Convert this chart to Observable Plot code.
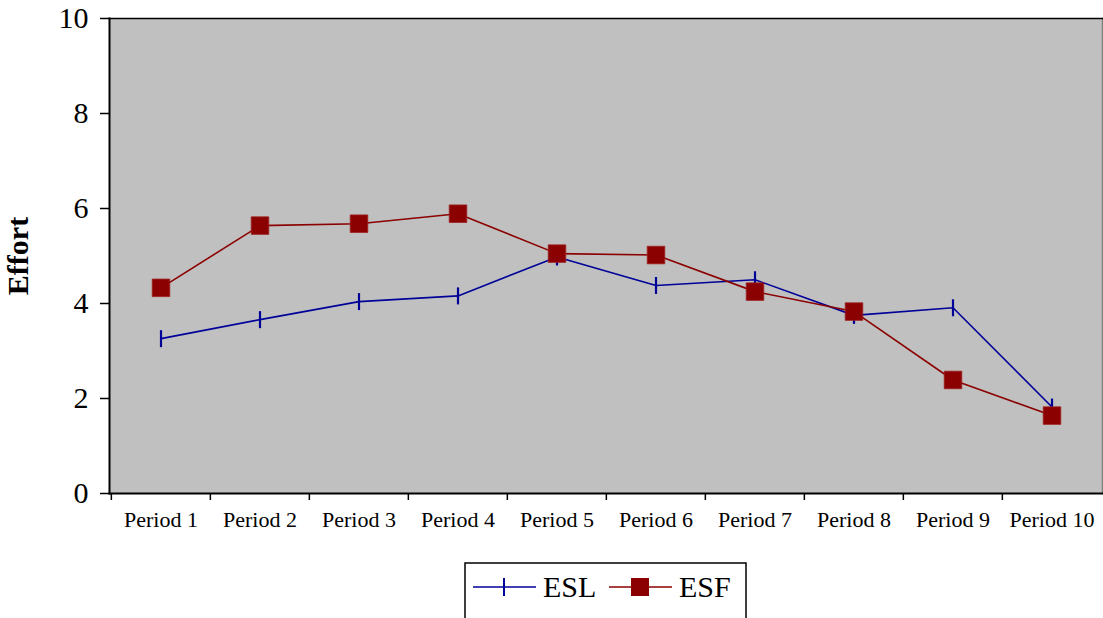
<!DOCTYPE html>
<html>
<head>
<meta charset="utf-8">
<script src="https://cdn.jsdelivr.net/npm/d3@7"></script>
<script src="https://cdn.jsdelivr.net/npm/@observablehq/plot@0.6"></script>
<style>
  html, body { margin: 0; padding: 0; background: #fff; }
  #chart { position: relative; width: 1103px; height: 618px; overflow: hidden; font-family: "Liberation Serif", "Times New Roman", serif; }
  #legend { position: absolute; left: 464px; top: 562px; }
</style>
</head>
<body>
<div id="chart"></div>
<script>
// Effort per period for the two groups
const periods = ["Period 1", "Period 2", "Period 3", "Period 4", "Period 5",
                 "Period 6", "Period 7", "Period 8", "Period 9", "Period 10"];
const eslValues = [3.26, 3.66, 4.04, 4.16, 4.98, 4.38, 4.50, 3.75, 3.91, 1.82];
const esfValues = [4.33, 5.64, 5.68, 5.89, 5.05, 5.02, 4.25, 3.83, 2.39, 1.64];
const yTicks = [0, 2, 4, 6, 8, 10];
const seriesNames = ["ESL", "ESF"];
const seriesColors = {ESL: "#000099", ESF: "#8b0000"};

const rows = [
  ...periods.map((p, i) => ({period: p, series: "ESL", effort: eslValues[i]})),
  ...periods.map((p, i) => ({period: p, series: "ESF", effort: esfValues[i]}))
];
const esl = rows.filter(d => d.series === "ESL");
const esf = rows.filter(d => d.series === "ESF");

// vertical dash marker
const dash = {
  draw(context, size) {
    const r = Math.sqrt(size / Math.PI);
    context.moveTo(0, -r);
    context.lineTo(0, r);
  }
};

const W = 1103, H = 545;
const mL = 109, mR = 1, mT = 18, mB = 52;
const halfBand = (W - mL - mR) / periods.length / 2;

const chart = Plot.plot({
  width: W,
  height: H,
  marginLeft: mL,
  marginRight: mR,
  marginTop: mT,
  marginBottom: mB,
  style: {fontFamily: "'Liberation Serif', 'Times New Roman', serif", color: "#000", background: "#fff"},
  x: {type: "band", domain: periods, padding: 0},
  y: {domain: [0, 10]},
  marks: [
    Plot.frame({fill: "#c0c0c0"}),
    Plot.frame({anchor: "right", stroke: "#7f7f7f", strokeWidth: 1.5}),
    Plot.frame({anchor: "top", stroke: "#000", strokeWidth: 1.5}),
    Plot.frame({anchor: "left", stroke: "#000", strokeWidth: 2}),
    Plot.frame({anchor: "bottom", stroke: "#000", strokeWidth: 2}),
    Plot.axisY({ticks: yTicks, tickSize: 9, tickPadding: 12, fontSize: 30, label: null, strokeWidth: 1.5}),
    Plot.axisX({tickSize: 0, tickPadding: 18, fontSize: 22, label: null}),
    Plot.axisX({tickSize: 7, text: null, label: null, dx: -halfBand, strokeWidth: 1.5}),
    Plot.text(["Effort"], {frameAnchor: "left", textAnchor: "middle", dx: -(mL - 18), rotate: -90, fontSize: 30, fontWeight: "bold"}),
    Plot.line(esl, {x: "period", y: "effort", stroke: seriesColors.ESL, strokeWidth: 1.6}),
    Plot.dot(esl, {x: "period", y: "effort", symbol: dash, r: 8.5, stroke: seriesColors.ESL, strokeWidth: 2.2}),
    Plot.line(esf, {x: "period", y: "effort", stroke: seriesColors.ESF, strokeWidth: 1.6}),
    Plot.dot(esf, {x: "period", y: "effort", symbol: "square", r: 9.9, fill: seriesColors.ESF, stroke: "#a02020", strokeWidth: 0.8})
  ]
});
document.getElementById("chart").appendChild(chart);

// legend box below the chart
const legend = d3.select("#chart").append("svg")
  .attr("id", "legend")
  .attr("width", 284)
  .attr("height", 60)
  .style("font-family", "'Liberation Serif', 'Times New Roman', serif");
legend.append("rect")
  .attr("x", 1).attr("y", 1).attr("width", 281).attr("height", 70)
  .attr("fill", "#fff").attr("stroke", "#000").attr("stroke-width", 1.5);
const items = legend.selectAll("g.item").data(seriesNames).join("g")
  .attr("class", "item")
  .attr("transform", (d, i) => `translate(${9 + i * 136},25)`);
items.append("line")
  .attr("x1", 0).attr("x2", 63).attr("y1", 0).attr("y2", 0)
  .attr("stroke", d => seriesColors[d]).attr("stroke-width", 1.6);
items.filter(d => d === "ESL").append("line")
  .attr("x1", 31).attr("x2", 31).attr("y1", -9).attr("y2", 9)
  .attr("stroke", d => seriesColors[d]).attr("stroke-width", 2);
items.filter(d => d === "ESF").append("rect")
  .attr("x", 22).attr("y", -9).attr("width", 18).attr("height", 18)
  .attr("fill", d => seriesColors[d]);
items.append("text")
  .attr("x", 70).attr("y", 10)
  .attr("font-size", 30)
  .attr("fill", "#000")
  .text(d => d);
</script>
</body>
</html>
